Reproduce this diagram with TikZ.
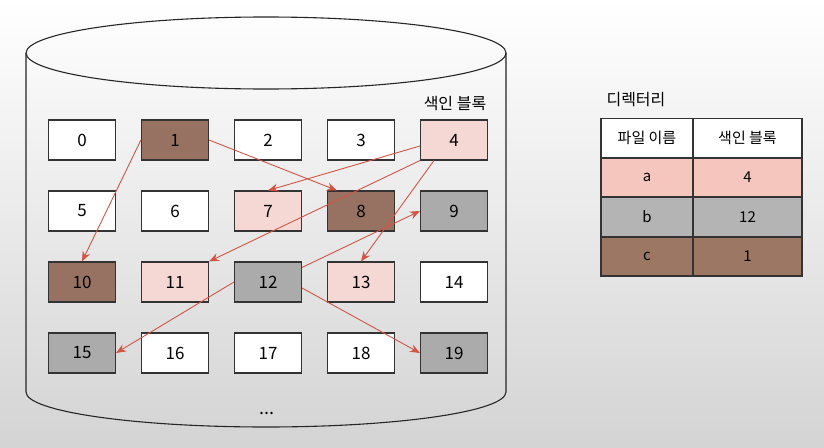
\documentclass[tikz,border=0pt]{standalone}
\usepackage{fontspec}
\setmainfont{Noto Sans CJK KR}
\usetikzlibrary{arrows.meta}

\definecolor{brownblk}{HTML}{977262}
\definecolor{pinkblk}{HTML}{F5D8D3}
\definecolor{grayblk}{HTML}{ABABAB}
\definecolor{pinkrow}{HTML}{F5C6BE}
\definecolor{grayrow}{HTML}{B4B4B4}
\definecolor{brownrow}{HTML}{9C7864}
\definecolor{linkred}{HTML}{D05545}

\begin{document}
\begin{tikzpicture}
            [x=1pt, y=-1pt,
            block/.style={draw=black!80, line width=1.1pt, fill=white, minimum width=67pt, minimum height=40pt, inner sep=0pt, font=\fontsize{17}{17}\selectfont},
            cell/.style={draw=black!80, line width=1.1pt, minimum height=39pt, inner sep=0pt, font=\fontsize{15}{15}\selectfont},
            link/.style={linkred, line width=0.9pt, -{Stealth[length=10pt, width=8pt]}},
            label/.style={font=\fontsize{16}{16}\selectfont}]

            % background
            \shade[top color=white, middle color=black!3, bottom color=black!17] (0,0) rectangle (824,447);
            \useasboundingbox (0,0) rectangle (824,447);

            % disk
            \draw[line width=1.1pt, black!85] (266,53) ellipse[x radius=240, y radius=36];
            \draw[line width=1.1pt, black!85] (26,53) -- (26,392) arc[start angle=180, end angle=0, x radius=240, y radius=35] -- (506,53);
            \node[font=\fontsize{18}{18}\selectfont] (dots) at (267,413) {...};

            % blocks
            \node[block] (b0) at (82,140) {0};
            \node[block, fill=brownblk] (b1) at (175,140) {1};
            \node[block] (b2) at (268,140) {2};
            \node[block] (b3) at (361,140) {3};
            \node[block, fill=pinkblk] (b4) at (454,140) {4};
            \node[block] (b5) at (82,211) {5};
            \node[block] (b6) at (175,211) {6};
            \node[block, fill=pinkblk] (b7) at (268,211) {7};
            \node[block, fill=brownblk] (b8) at (361,211) {8};
            \node[block, fill=grayblk] (b9) at (454,211) {9};
            \node[block, fill=brownblk] (b10) at (82,282) {10};
            \node[block, fill=pinkblk] (b11) at (175,282) {11};
            \node[block, fill=grayblk] (b12) at (268,282) {12};
            \node[block, fill=pinkblk] (b13) at (361,282) {13};
            \node[block] (b14) at (454,282) {14};
            \node[block, fill=grayblk] (b15) at (82,353) {15};
            \node[block] (b16) at (175,353) {16};
            \node[block] (b17) at (268,353) {17};
            \node[block] (b18) at (361,353) {18};
            \node[block, fill=grayblk] (b19) at (454,353) {19};

            \node[label] (idx) at (455,104) {색인 블록};

            % directory table
            \node[label, anchor=west] (dir) at (603,100) {디렉터리};
            \node[cell, minimum width=92pt, fill=white] (h1) at (647,138) {파일 이름};
            \node[cell, minimum width=109pt, fill=white] (h2) at (747.5,138) {색인 블록};
            \node[cell, minimum width=92pt, fill=pinkrow] (a1) at (647,177.5) {a};
            \node[cell, minimum width=109pt, fill=pinkrow] (a2) at (747.5,177.5) {4};
            \node[cell, minimum width=92pt, fill=grayrow] (c1) at (647,217) {b};
            \node[cell, minimum width=109pt, fill=grayrow] (c2) at (747.5,217) {12};
            \node[cell, minimum width=92pt, fill=brownrow] (d1) at (647,256.5) {c};
            \node[cell, minimum width=109pt, fill=brownrow] (d2) at (747.5,256.5) {1};

            % index links
            \draw[link] (b1.west) -- (b10.north);
            \draw[link] (b1.east) -- ([xshift=10pt]b8.north west);
            \draw[link] ([yshift=-6pt]b4.west) -- (b7.north);
            \draw[link] (b4.south west) -- (b11.north east);
            \draw[link] ([xshift=14pt]b4.south west) -- (b13.north);
            \draw[link] ([yshift=-6pt]b12.north east) -- (b9.west);
            \draw[link] (b12.west) -- (b15.east);
            \draw[link] ([yshift=-6pt]b12.east) -- (b19.west);

        \end{tikzpicture}
\end{document}
